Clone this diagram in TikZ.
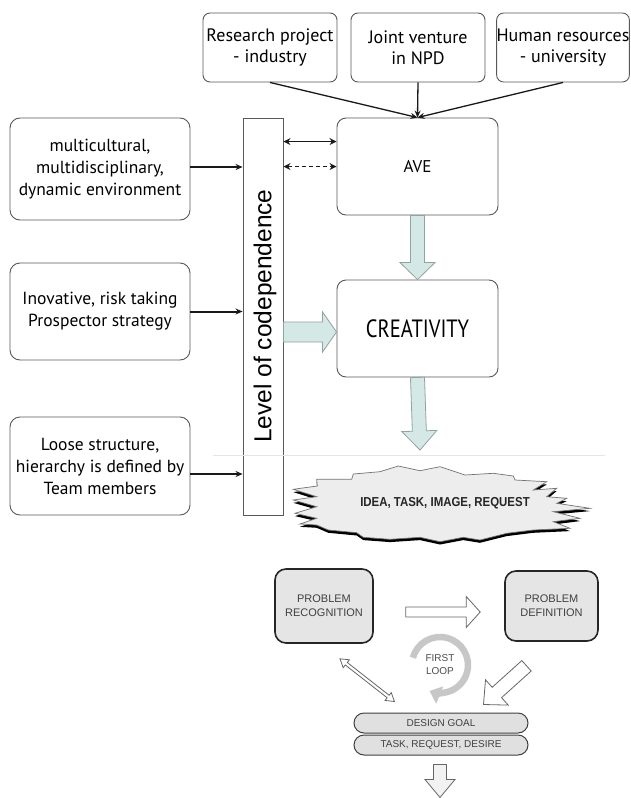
\documentclass[tikz,border=0pt]{standalone}
\usepackage{fontspec}
\usepackage{graphicx}
\setmainfont{PT Sans}
\newfontfamily\arialf{Liberation Sans}
\usetikzlibrary{arrows.meta,calc}
\definecolor{teal1}{HTML}{D4E8E6}
\definecolor{tealedge}{HTML}{8FA3A2}
\newcommand\blockarr[6][]{%
  \path[#1] let \p1=(#2), \p2=(#3),
    \n1={atan2(\y2-\y1,\x2-\x1)}, \n2={veclen(\x2-\x1,\y2-\y1)} in
    ($(\p1)+(\n1+90:#4)$) --
    ($(\p1)+(\n1:\n2-#6)+(\n1+90:#4)$) --
    ($(\p1)+(\n1:\n2-#6)+(\n1+90:#5)$) --
    (\p2) --
    ($(\p1)+(\n1:\n2-#6)+(\n1-90:#5)$) --
    ($(\p1)+(\n1:\n2-#6)+(\n1-90:#4)$) --
    ($(\p1)+(\n1-90:#4)$) -- cycle;}
\newcommand\dblockarr[6][]{%
  \path[#1] let \p1=(#2), \p2=(#3),
    \n1={atan2(\y2-\y1,\x2-\x1)}, \n2={veclen(\x2-\x1,\y2-\y1)} in
    (\p1) --
    ($(\p1)+(\n1:#6)+(\n1+90:#5)$) --
    ($(\p1)+(\n1:#6)+(\n1+90:#4)$) --
    ($(\p1)+(\n1:\n2-#6)+(\n1+90:#4)$) --
    ($(\p1)+(\n1:\n2-#6)+(\n1+90:#5)$) --
    (\p2) --
    ($(\p1)+(\n1:\n2-#6)+(\n1-90:#5)$) --
    ($(\p1)+(\n1:\n2-#6)+(\n1-90:#4)$) --
    ($(\p1)+(\n1:#6)+(\n1-90:#4)$) --
    ($(\p1)+(\n1:#6)+(\n1-90:#5)$) -- cycle;}
\newcommand\starpath{(293.3,489.3) -- (317.3,486) -- (316.7,479.3) -- (351.7,479.3) -- (353.3,474) -- (380,471.7) -- (398.3,466) -- (420,470.7) -- (440,466.7) -- (465,475) -- (493.3,473.3) -- (513.3,476) -- (515,480) -- (546.7,481.7) -- (533.3,490) -- (556.7,488.3) -- (546.7,496.7) -- (566.7,498.3) -- (556.7,503.3) -- (590,508.3) -- (553.3,511.7) -- (580,518.3) -- (553.3,521.7) -- (570,528.3) -- (533.3,530) -- (506.7,533.3) -- (480,540) -- (463.3,537.3) -- (440,541.7) -- (420,537.3) -- (390,539.3) -- (363.3,537.3) -- (356.7,532.7) -- (328.3,530) -- (316.7,525) -- (300,524) -- (316.7,518.3) -- (295,513.3) -- (316.7,506.7) -- (293.3,500) -- (316.7,496.7) -- cycle}
\begin{document}
\begin{tikzpicture}[x=1pt,y=-1pt,
  topbox/.style={draw=black!65, line width=0.9pt, rounded corners=7pt, align=center,
    inner sep=0pt, minimum height=69pt, font=\fontsize{18}{21}\selectfont},
  leftbox/.style={draw=black!65, line width=0.9pt, rounded corners=10pt, align=center,
    inner sep=0pt, minimum width=180pt, font=\fontsize{17.5}{22}\selectfont},
  midbox/.style={draw=black!65, line width=0.9pt, rounded corners=9pt, align=center,
    inner sep=0pt, minimum width=161pt, minimum height=97pt},
  thin arrow/.style={-{Stealth[length=7pt,width=6pt]}, line width=1.7pt, black!90},
  dbl arrow/.style={{Stealth[length=7pt,width=7pt]}-{Stealth[length=7pt,width=7pt]}, line width=1.5pt, black!90},
  teal arrow/.style={fill=teal1, draw=tealedge, line width=0.8pt},
  hollow arrow/.style={fill=white, draw=black!60, line width=0.8pt},
  pbox/.style={draw=black!85, fill=black!10, line width=1.6pt, rounded corners=11pt, align=center,
    inner sep=0pt, font=\arialf\fontsize{11}{14}\selectfont, text=black!75},
  pill/.style={draw=black!75, fill=black!12, line width=1pt, rounded corners=10pt,
    inner sep=0pt, minimum width=174pt, minimum height=20pt, font=\arialf\fontsize{10}{12}\selectfont, text=black!75}
]
\useasboundingbox (0,0) rectangle (630,798);
\fill[white] (0,0) rectangle (630,798);

% top boxes
\node[topbox, minimum width=134pt] (rp) at (270,47.5) {Research project\\- industry};
\node[topbox, minimum width=134pt] (jv) at (418,47.5) {Joint venture\\in NPD};
\node[topbox, minimum width=132pt] (hr) at (563,47.5) {Human resources\\- university};

% central boxes
\node[midbox, font=\fontsize{17}{20}\selectfont] (ave) at (417.5,166.5) {AVE};
\node[midbox, font=\fontsize{25}{28}\selectfont] (cre) at (417.5,328.5) {\scalebox{0.82}[1]{CREATIVITY}};

% left boxes
\node[leftbox, minimum height=102pt] (l1) at (100,169) {multicultural,\\multidisciplinary,\\dynamic environment};
\node[leftbox, minimum height=97pt] (l2) at (100,311.5) {Inovative, risk taking\\Prospector strategy};
\node[leftbox, minimum height=98pt] (l3) at (100,466) {Loose structure,\\hierarchy is defined by\\Team members};

% bar
\node[draw=black!65, line width=0.9pt, minimum width=40pt, minimum height=397pt, inner sep=0pt] (bar) at (263,316.5) {};
\node[rotate=90, font=\arialf\fontsize{24.5}{27}\selectfont] (bartext) at (265,316) {Level of codependence};

% top converging arrows
\draw[thin arrow, line width=1.3pt] (rp.south) -- (ave.north);
\draw[thin arrow, line width=1.3pt] (jv.south) -- (ave.north);
\draw[thin arrow, line width=1.3pt] (hr.south) -- (ave.north);

% left arrows
\coordinate (a1) at ($(l1.east)+(0,-2)$);
\draw[thin arrow, line width=2.3pt] (a1) -- (a1 -| bar.west);
\draw[thin arrow, line width=2pt] (l2.east) -- (l2.east -| bar.west);
\coordinate (a3) at ($(l3.east)+(0,8)$);
\draw[thin arrow, line width=2pt] (a3) -- (a3 -| bar.west);

% bar <-> AVE
\coordinate (d1) at ($(ave.north west)+(0,24)$);
\coordinate (d2) at ($(ave.north west)+(0,49)$);
\draw[dbl arrow] (d1 -| bar.east) -- (d1);
\draw[dbl arrow, dashed, dash pattern=on 4pt off 3pt] (d2 -| bar.east) -- (d2);

% teal block arrows
\blockarr[teal arrow]{ave.south}{cre.north}{7pt}{17.5pt}{17pt}
\coordinate (b1) at ($(bar.east |- cre.west)+(0,3.5)$);
\blockarr[teal arrow]{b1}{b1 -| cre.west}{10pt}{20pt}{14pt}
\coordinate (b2) at (420,450);
\blockarr[teal arrow]{cre.south}{b2}{7pt}{17.5pt}{19pt}

% lower pane edge
\draw[black!10, line width=0.8pt] (213,455.5) -- (605,455.5);

% starburst
\fill[black, shift={(0,2.8)}] \starpath;
\filldraw[fill=black!7, draw=black!55, line width=0.7pt] \starpath;
\node[font=\arialf\bfseries\fontsize{13}{15}\selectfont, text=black!85] (idea) at (445,503) {\scalebox{0.88}[1]{IDEA, TASK, IMAGE, REQUEST}};

% problem boxes
\node[pbox, minimum width=98pt, minimum height=74pt] (prec) at (324,606) {PROBLEM\\RECOGNITION};
\node[pbox, minimum width=93pt, minimum height=70pt] (pdef) at (551.5,606) {PROBLEM\\DEFINITION};

\coordinate (h1) at ($(prec.east)+(32,6)$);
\coordinate (h2) at ($(pdef.west)+(-24,6)$);
\blockarr[hollow arrow]{h1}{h2}{5pt}{15.5pt}{14pt}

% first loop
\coordinate (loopc) at (440,665);
\draw[black!22, line width=6.5pt, -{Triangle[length=11pt,width=18pt]}] ($(loopc)+(165:28pt)$) arc[start angle=165, end angle=-112, radius=28pt];
\node[align=center, font=\arialf\fontsize{10}{13}\selectfont, text=black!70] (looptext) at (440,665) {FIRST\\LOOP};

% pills
\node[pill] (dg) at (441,723) {DESIGN GOAL};
\node[pill] (trd) at (441,745) {TASK, REQUEST, DESIRE};

% diagonal arrows
\coordinate (s1) at ($(prec.south)+(16,15)$);
\coordinate (s2) at ($(dg.north west)+(41,-11)$);
\dblockarr[hollow arrow]{s1}{s2}{1.6pt}{5pt}{8pt}
\coordinate (t1) at ($(pdef.south)+(-25,24)$);
\coordinate (t2) at ($(dg.north east)+(-45,-8)$);
\blockarr[hollow arrow]{t1}{t2}{7pt}{17pt}{18pt}

% bottom arrow
\coordinate (u1) at ($(trd.south)+(-1,9)$);
\coordinate (u2) at ($(trd.south)+(-1,42)$);
\blockarr[hollow arrow, fill=black!5]{u1}{u2}{6.5pt}{15pt}{18pt}
\end{tikzpicture}
\end{document}
